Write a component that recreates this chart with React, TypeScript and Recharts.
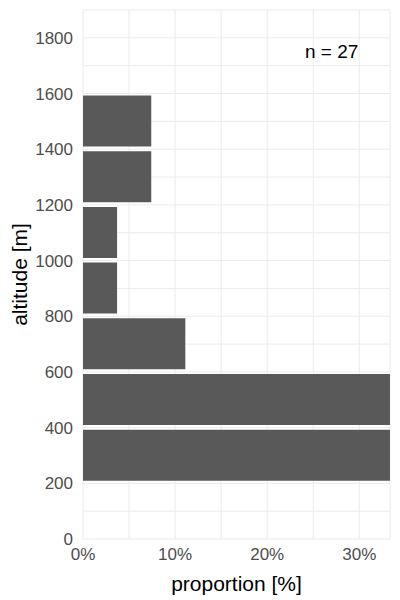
import React from 'react';
import { BarChart, Bar, XAxis, YAxis, CartesianGrid, ReferenceDot } from 'recharts';

// altitude bins (midpoints, m) and share of observations in each bin (%)
const altitudeMid = [300, 500, 700, 900, 1100, 1300, 1500];
const proportion = [33.33, 33.33, 11.11, 3.7, 3.7, 7.41, 7.41];
const yTicks = [0, 100, 200, 300, 400, 500, 600, 700, 800, 900, 1000, 1100, 1200, 1300, 1400, 1500, 1600, 1700, 1800, 1900];
const xTicks = [0, 5, 10, 15, 20, 25, 30];
const sampleLabel = 'n = 27';

const data = altitudeMid.map((mid, i) => ({ mid, value: proportion[i] }));

const font = '"Liberation Sans", Arial, sans-serif';
const tickStyle = { fill: '#4d4d4d', fontSize: 17, fontFamily: font };

export default function App() {
  return (
    <div style={{ position: 'absolute', left: 0, top: 0, background: '#fff' }}>
      <BarChart
        width={400}
        height={600}
        data={data}
        layout="vertical"
        margin={{ top: 10, right: 10, left: 0, bottom: 0 }}
      >
        <CartesianGrid stroke="#ebebeb" strokeWidth={1} />
        <XAxis
          type="number"
          dataKey="value"
          domain={[0, 33.333]}
          ticks={xTicks}
          interval={0}
          tickFormatter={(v: number) => (v % 10 === 0 ? `${v}%` : '')}
          tick={tickStyle}
          tickLine={false}
          axisLine={false}
          tickSize={4}
          tickMargin={5}
          height={61}
          label={{ value: 'proportion [%]', position: 'insideBottom', offset: 9, style: { fill: '#000', fontSize: 21, fontFamily: font } }}
        />
        <YAxis
          type="number"
          dataKey="mid"
          domain={[0, 1900]}
          reversed
          ticks={yTicks}
          interval={0}
          tickFormatter={(v: number) => (v % 200 === 0 && v <= 1800 ? String(v) : '')}
          tick={tickStyle}
          tickLine={false}
          axisLine={false}
          tickSize={6}
          tickMargin={4}
          width={83}
          label={{ value: 'altitude [m]', angle: -90, position: 'insideLeft', offset: 20, style: { textAnchor: 'middle', fill: '#000', fontSize: 21, fontFamily: font } }}
        />
        <Bar dataKey="value" fill="#595959" barSize={51} isAnimationActive={false} />
        <ReferenceDot
          x={27}
          y={1752}
          r={0}
          fill="none"
          stroke="none"
          label={{ value: sampleLabel, position: 'center', style: { fill: '#000', fontSize: 19, fontFamily: font } }}
        />
      </BarChart>
    </div>
  );
}
